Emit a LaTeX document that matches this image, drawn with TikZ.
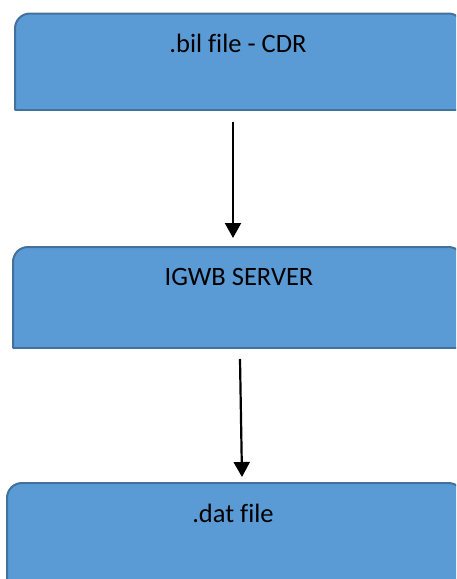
\documentclass[tikz,border=0pt]{standalone}
\usepackage{fontspec}
\setmainfont[Ligatures=NoCommon]{Carlito}
\usetikzlibrary{arrows.meta}
\definecolor{boxblue}{HTML}{5B9BD5}
\definecolor{boxedge}{HTML}{41719C}
\tikzset{
    boxshape/.style={rectangle, draw=none, inner sep=0pt, anchor=north west},
    boxtext/.style={font=\fontsize{26.5}{30}\selectfont, text=black, inner sep=0pt},
    flowarrow/.style={-{Triangle[width=16pt,length=15pt]}, line width=2.2pt, black},
}
\begin{document}
\begin{tikzpicture}[x=1pt, y=-1pt]
    \useasboundingbox (0,0) rectangle (456,579);
    \clip (0,0) rectangle (456,579);
    % boxes
    \node[boxshape, minimum width=448pt, minimum height=96.5pt] (bil) at (15,13.5) {};
    \node[boxshape, minimum width=450pt, minimum height=101pt] (igwb) at (13,247) {};
    \node[boxshape, minimum width=456pt, minimum height=120pt] (dat) at (7,483) {};
    \foreach \b in {bil,igwb,dat}{
        \fill[boxblue, rounded corners=15pt] (\b.south west) -- (\b.north west) -- (\b.north east) -- (\b.south east);
        \draw[boxedge, line width=2pt, rounded corners=15pt] (\b.south west) -- (\b.north west) -- (\b.north east) -- (\b.south east);
        \draw[boxedge, line width=2pt] (\b.south west) -- (\b.south east);
    }
    % labels
    \node[boxtext] (biltxt) at (238,43) {.bil file - CDR};
    \node[boxtext] (igwbtxt) at (239,277) {IGWB SERVER};
    \node[boxtext] (dattxt) at (233,513) {.dat file};
    % arrows
    \coordinate (a1s) at (233,122);
    \coordinate (a1e) at (233,238);
    \coordinate (a2s) at (240,359);
    \coordinate (a2e) at (242,477);
    \draw[flowarrow] (a1s) -- (a1e);
    \draw[flowarrow] (a2s) -- (a2e);
\end{tikzpicture}
\end{document}
